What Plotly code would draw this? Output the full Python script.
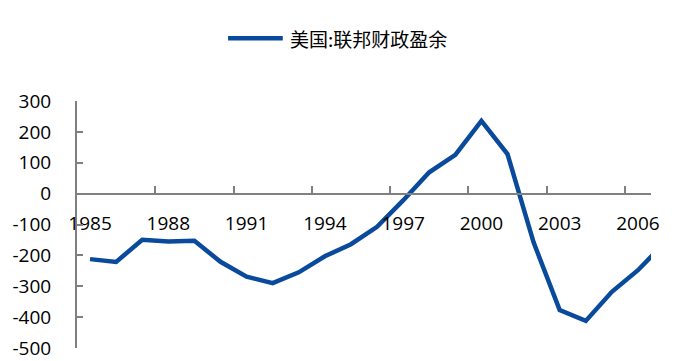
import plotly.graph_objects as go

years = list(range(1985, 2008))
surplus = [-212.3, -221.2, -149.7, -155.2, -152.6, -221.0, -269.2, -290.3, -255.1,
           -203.2, -164.0, -107.4, -21.9, 69.3, 125.6, 236.2, 128.2, -157.8,
           -377.6, -412.7, -318.3, -248.2, -160.7]
series_name = "美国:联邦财政盈余"

x_label_vals = [1985, 1988, 1991, 1994, 1997, 2000, 2003, 2006]
x_label_text = [str(v) for v in x_label_vals]
x_tick_marks = [1987.5, 1990.5, 1993.5, 1996.5, 1999.5, 2002.5, 2005.5]
y_tick_vals = [300, 200, 100, 0, -100, -200, -300, -400, -500]
y_tick_text = ["300", "200", "100", "0", "-100", "-200", "-300", "-400", "-500"]

LINE_COLOR = "#0a4a9c"
AXIS_COLOR = "#808080"
FONT = "Open Sans"

fig = go.Figure()
fig.add_trace(go.Scatter(
    x=years, y=surplus, mode="lines", name=series_name,
    line=dict(color=LINE_COLOR, width=4.5), showlegend=False,
))

fig.update_layout(
    width=675, height=361,
    margin=dict(l=77, r=24, t=101, b=13),
    paper_bgcolor="white", plot_bgcolor="white",
    xaxis=dict(
        range=[1984.5, 2006.5],
        anchor="free", position=0.625, automargin=False,
        showline=True, linecolor=AXIS_COLOR, linewidth=2,
        showgrid=False, zeroline=False,
        tickmode="array", tickvals=x_label_vals, ticktext=x_label_text,
        ticks="", ticklabelstandoff=13, ticklabeloverflow="allow",
        tickfont=dict(family=FONT, size=19, color="black"),
        minor=dict(tickmode="array", tickvals=x_tick_marks, ticks="inside",
                   ticklen=7, tickwidth=1.5, tickcolor=AXIS_COLOR, showgrid=False),
    ),
    yaxis=dict(
        range=[-500.5, 300.5], automargin=False,
        showline=True, linecolor=AXIS_COLOR, linewidth=2,
        showgrid=False, zeroline=False,
        tickmode="array", tickvals=y_tick_vals, ticktext=y_tick_text,
        ticks="inside", ticklen=6, tickwidth=1.5, tickcolor=AXIS_COLOR,
        ticklabelstandoff=20, ticklabeloverflow="allow",
        tickfont=dict(family=FONT, size=19, color="black"),
    ),
)

# Legend (drawn manually to match the long line sample)
fig.add_shape(type="line", xref="paper", yref="paper",
              x0=0.2632, x1=0.3585, y0=1.2538, y1=1.2538,
              line=dict(color=LINE_COLOR, width=4.5))
fig.add_annotation(xref="paper", yref="paper", x=0.3678, y=1.2538,
                   xanchor="left", yanchor="middle", showarrow=False,
                   text=series_name,
                   font=dict(family="Noto Sans CJK SC", size=19, color="black"))

fig.write_html("out.html")
